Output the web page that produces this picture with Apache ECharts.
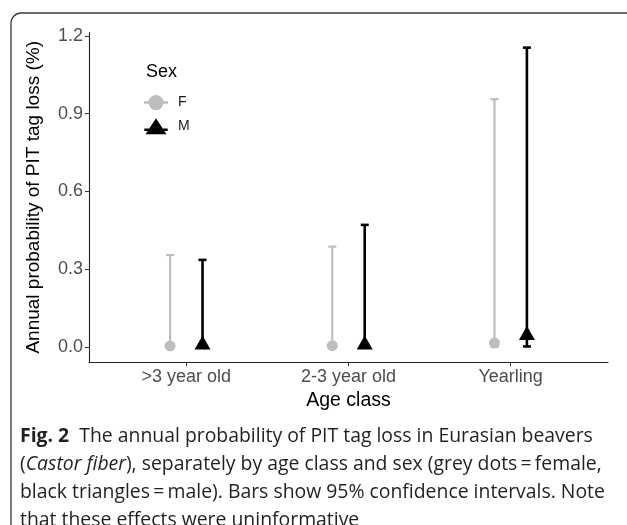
<!DOCTYPE html>
<html>
<head>
<meta charset="utf-8">
<script src="https://cdn.jsdelivr.net/npm/echarts@6/dist/echarts.min.js"></script>
<style>
  html, body { margin: 0; padding: 0; background: #fff; }
  #chart { width: 627px; height: 525px; }
</style>
</head>
<body>
<div id="chart"></div>
<script>
// age classes along the x axis
const categories = ['>3 year old', '2-3 year old', 'Yearling'];
const yTicks = [0, 0.3, 0.6, 0.9, 1.2];

// female (grey dots)
const femaleEst = [0.004, 0.005, 0.015];
const femaleLow = [0, 0, 0];
const femaleHigh = [0.355, 0.387, 0.956];

// male (black triangles)
const maleEst = [0.017, 0.017, 0.054];
const maleLow = [0, 0, 0.002];
const maleHigh = [0.336, 0.471, 1.155];

const dodge = 0.1;
const GREY = '#BEBEBE';
const FONT = 'Liberation Sans';
const CAP_FONT = 'Open Sans';

// legend keys like ggplot: point with the errorbar stroke through it
const ICON_F = 'path://M0,5.5H19V7.5H0Z M15.5,6.5A6,6 0 1 1 3.5,6.5A6,6 0 1 1 15.5,6.5Z';
const ICON_M = 'path://M0,8.5H19V10.5H0Z M9.5,0L18,13L1,13Z';

let chart = echarts.init(document.getElementById('chart'), null, { renderer: 'canvas' });

let points = (est, shift) => est.map((v, i) => [i + 1 + shift, v]);
let bars = (lo, hi, shift) => lo.map((v, i) => [i + 1 + shift, v, hi[i]]);

// vertical error bar with caps
let errorBar = (color, width) => (params, api) => {
    const x = api.value(0);
    const lo = api.coord([x, api.value(1)]);
    const hi = api.coord([x, api.value(2)]);
    const cap = 4;
    const style = { stroke: color, lineWidth: width };
    return {
        type: 'group',
        children: [
            { type: 'line', shape: { x1: lo[0], y1: lo[1], x2: hi[0], y2: hi[1] }, style: style },
            { type: 'line', shape: { x1: hi[0] - cap, y1: hi[1], x2: hi[0] + cap, y2: hi[1] }, style: style },
            { type: 'line', shape: { x1: lo[0] - cap, y1: lo[1], x2: lo[0] + cap, y2: lo[1] }, style: style }
        ]
    };
};

let capStyle = (extra) => Object.assign({
    fontFamily: CAP_FONT, fontSize: 19.4, color: '#231F20', lineHeight: 28
}, extra);

let option = {
    animation: false,
    backgroundColor: '#fff',
    textStyle: { fontFamily: FONT },
    grid: { left: 89, right: 19, top: 32.6, bottom: 163, containLabel: false },
    title: {
        left: 20,
        top: 422,
        padding: 0,
        text: '{b|Fig. 2}  The annual probability of PIT tag loss in Eurasian beavers\n' +
              '({i|Castor fiber}), separately by age class and sex (grey dots\u2009=\u2009female,\n' +
              'black triangles\u2009=\u2009male). Bars show 95% confidence intervals. Note\n' +
              'that these effects were uninformative',
        textStyle: capStyle({
            fontWeight: 'normal',
            rich: {
                b: capStyle({ fontWeight: 'bold' }),
                i: capStyle({ fontStyle: 'italic' })
            }
        })
    },
    graphic: [
        {
            type: 'rect',
            shape: { x: 11, y: 13, width: 660, height: 560, r: [10, 0, 0, 0] },
            style: { fill: 'none', stroke: '#3a3a3a', lineWidth: 1.3 },
            silent: true
        },
        {
            type: 'text',
            left: 146,
            top: 63,
            style: { text: 'Sex', font: '18px "Liberation Sans"', fill: '#000' }
        }
    ],
    legend: {
        orient: 'vertical',
        left: 144,
        top: 95,
        padding: 0,
        itemWidth: 24,
        itemHeight: 16,
        itemGap: 8,
        textStyle: { fontFamily: FONT, fontSize: 14, color: '#1a1a1a', padding: [0, 0, 0, 5] },
        data: [{ name: 'F', icon: ICON_F }, { name: 'M', icon: ICON_M }]
    },
    xAxis: {
        type: 'value',
        min: 0.4,
        max: 3.6,
        splitLine: { show: false },
        axisLine: { onZero: false, lineStyle: { color: '#222', width: 1.1 } },
        axisTick: { customValues: [1, 2, 3], length: 4, lineStyle: { color: '#333' } },
        axisLabel: {
            customValues: [1, 2, 3],
            formatter: (v) => categories[Math.round(v) - 1],
            color: '#4D4D4D',
            fontSize: 18,
            margin: 6
        },
        name: 'Age class',
        nameLocation: 'middle',
        nameGap: 28,
        nameTextStyle: { color: '#000', fontSize: 19.5 }
    },
    yAxis: {
        type: 'value',
        min: -0.058,
        max: 1.213,
        splitLine: { show: false },
        axisLine: { show: true, onZero: false, lineStyle: { color: '#222', width: 1.1 } },
        axisTick: { show: true, customValues: yTicks, length: 4, lineStyle: { color: '#333' } },
        axisLabel: {
            customValues: yTicks,
            formatter: (v) => v.toFixed(1),
            color: '#4D4D4D',
            fontSize: 18,
            margin: 6
        },
        name: 'Annual probability of PIT tag loss (%)',
        nameLocation: 'middle',
        nameGap: 46,
        nameTextStyle: { color: '#000', fontSize: 19 }
    },
    series: [
        {
            name: 'F',
            type: 'custom',
            renderItem: errorBar(GREY, 2.2),
            itemStyle: { color: GREY },
            data: bars(femaleLow, femaleHigh, -dodge),
            z: 2
        },
        {
            name: 'M',
            type: 'custom',
            renderItem: errorBar('#000', 2.6),
            itemStyle: { color: '#000' },
            data: bars(maleLow, maleHigh, dodge),
            z: 2
        },
        {
            name: 'F',
            type: 'scatter',
            symbol: 'circle',
            symbolSize: 11,
            itemStyle: { color: GREY, opacity: 1 },
            data: points(femaleEst, -dodge),
            z: 3
        },
        {
            name: 'M',
            type: 'scatter',
            symbol: 'triangle',
            symbolSize: [16, 14],
            itemStyle: { color: '#000', opacity: 1 },
            data: points(maleEst, dodge),
            z: 3
        }
    ]
};

chart.setOption(option);
</script>
</body>
</html>
